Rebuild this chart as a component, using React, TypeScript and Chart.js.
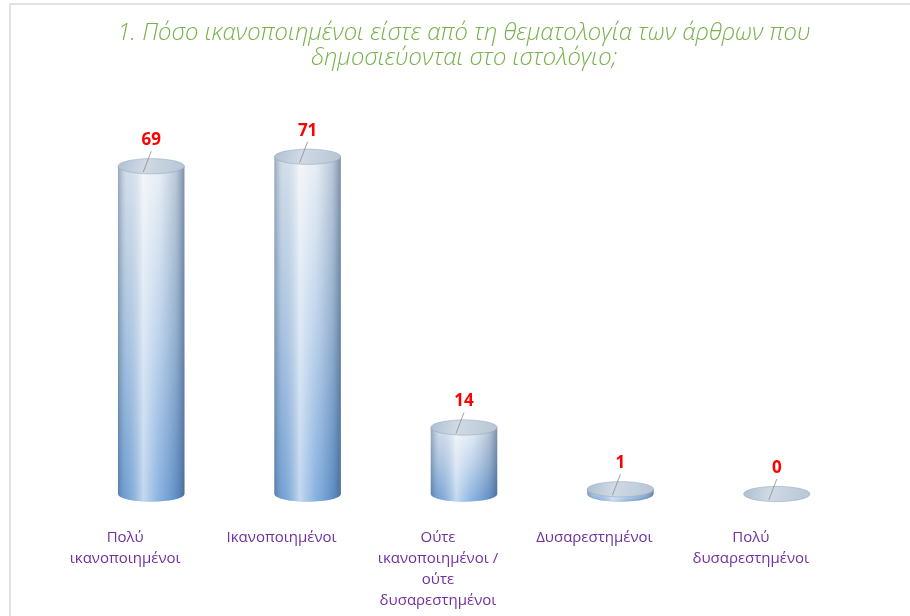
import React, { useEffect, useRef } from "react";
import { Chart, registerables } from "chart.js";

Chart.register(...registerables);

const titleLines = [
  "1. Πόσο ικανοποιημένοι είστε από τη θεματολογία των άρθρων που",
  "δημοσιεύονται στο ιστολόγιο;",
];
const categories = [
  ["Πολύ", "ικανοποιημένοι"],
  ["Ικανοποιημένοι"],
  ["Ούτε", "ικανοποιημένοι /", "ούτε", "δυσαρεστημένοι"],
  ["Δυσαρεστημένοι"],
  ["Πολύ", "δυσαρεστημένοι"],
];
const values = [69, 71, 14, 1, 0];

const cylinderPlugin = {
  id: "cylinders",
  afterDatasetsDraw(chart: any) {
    const ctx: CanvasRenderingContext2D = chart.ctx;
    const meta = chart.getDatasetMeta(0);
    meta.data.forEach((bar: any, i: number) => {
      const { x, y, base, width } = bar.getProps(["x", "y", "base", "width"], true);
      const rx = width / 2;
      const ry = width * 0.115;
      const left = x - rx;
      const right = x + rx;
      ctx.save();
      if (base - y > 0.5) {
        ctx.beginPath();
        ctx.moveTo(left, y);
        ctx.lineTo(left, base);
        ctx.ellipse(x, base, rx, ry, 0, Math.PI, 0, true);
        ctx.lineTo(right, y);
        ctx.closePath();
        const vg = ctx.createLinearGradient(0, y, 0, base + ry);
        vg.addColorStop(0, "#e2eaf2");
        vg.addColorStop(0.5, "#adc8e6");
        vg.addColorStop(1, "#6a9ed8");
        ctx.fillStyle = vg;
        ctx.fill();
        const hg = ctx.createLinearGradient(left, 0, right, 0);
        hg.addColorStop(0, "rgba(60,85,115,0.45)");
        hg.addColorStop(0.12, "rgba(150,175,200,0.2)");
        hg.addColorStop(0.38, "rgba(255,255,255,0.6)");
        hg.addColorStop(0.62, "rgba(255,255,255,0.2)");
        hg.addColorStop(0.88, "rgba(60,90,130,0.25)");
        hg.addColorStop(1, "rgba(45,70,105,0.55)");
        ctx.fillStyle = hg;
        ctx.fill();
      }
      ctx.beginPath();
      ctx.ellipse(x, y, rx, ry, 0, 0, Math.PI * 2);
      const tg = ctx.createLinearGradient(left, y - ry, right, y + ry);
      tg.addColorStop(0, "#adbfd0");
      tg.addColorStop(0.4, "#d0dae5");
      tg.addColorStop(1, "#b6c5d4");
      ctx.fillStyle = tg;
      ctx.fill();
      ctx.strokeStyle = "rgba(140,160,185,0.6)";
      ctx.lineWidth = 0.8;
      ctx.stroke();

      const lx = x;
      const ly = y - 26;
      ctx.beginPath();
      ctx.moveTo(lx, ly + 11);
      ctx.lineTo(lx - 8, y + 6);
      ctx.strokeStyle = "#8c8c8c";
      ctx.lineWidth = 0.8;
      ctx.stroke();
      ctx.fillStyle = "#ff0000";
      ctx.font = "bold 17px 'Open Sans'";
      ctx.textAlign = "center";
      ctx.textBaseline = "middle";
      ctx.fillText(String(values[i]), lx, ly);
      ctx.restore();
    });
  },
};

export default function App() {
  const ref = useRef<HTMLCanvasElement | null>(null);
  useEffect(() => {
    if (!ref.current) return;
    const chart = new Chart(ref.current, {
      type: "bar",
      data: {
        labels: categories,
        datasets: [
          {
            data: values,
            backgroundColor: "rgba(0,0,0,0)",
            borderWidth: 0,
            barPercentage: 0.85,
            categoryPercentage: 0.5,
          },
        ],
      },
      options: {
        animation: false,
        responsive: false,
        events: [],
        layout: { padding: { left: 73, right: 55, top: 0, bottom: 0 } },
        plugins: {
          legend: { display: false },
          tooltip: { enabled: false },
          title: {
            display: true,
            text: titleLines,
            color: "#77b24a",
            font: { family: "'Open Sans'", size: 23.8, style: "italic", weight: 300, lineHeight: "25px" },
            padding: { top: 21, bottom: 43 },
          },
        },
        scales: {
          x: {
            grid: { display: false },
            border: { display: false },
            ticks: {
              color: "#7030a0",
              font: { family: "'Open Sans'", size: 15, lineHeight: "21px" },
              padding: 25,
              labelOffset: -26,
              maxRotation: 0,
              autoSkip: false,
            },
            afterFit(scale: any) {
              scale.height = 122;
            },
          },
          y: {
            display: false,
            min: 0,
            max: 80,
          },
        },
      },
      plugins: [cylinderPlugin],
    });
    return () => chart.destroy();
  }, []);
  return (
    <div style={{ position: "absolute", left: 0, top: 0, width: 910, height: 616, background: "#fff" }}>
      <div
        style={{
          position: "absolute",
          left: 9,
          top: 3,
          right: 0,
          bottom: 0,
          borderTop: "2px solid #e2e2e2",
          borderLeft: "2px solid #e2e2e2",
        }}
      />
      <canvas ref={ref} width={910} height={616} style={{ position: "absolute", left: 0, top: 0 }} />
    </div>
  );
}
